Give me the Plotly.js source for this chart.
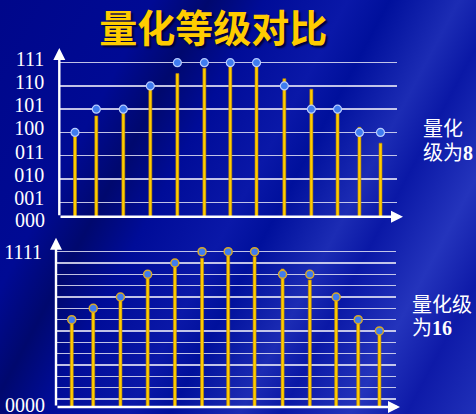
<!DOCTYPE html>
<html>
<head>
<meta charset="utf-8">
<script src="https://cdn.plot.ly/plotly-3.0.1.min.js"></script>
<style>
  html, body { margin: 0; padding: 0; }
  body {
    width: 476px; height: 414px; overflow: hidden;
    background:
      linear-gradient(118deg,
        #00078a 0%, #000a94 22%, #00086e 30%, #000c98 38%,
        #0a18a8 50%, #00109c 56%, #1c2cb4 66%, #0a18a6 72%,
        #2434bc 82%, #0e1aa8 90%, #2030b8 100%);
  }
  #chart { width: 476px; height: 414px; }
</style>
</head>
<body>
<div id="chart"></div>
<script>
// sample positions (shared by both panels)
const sampleT = [0.58, 1.37, 2.37, 3.37, 4.37, 5.37, 6.33, 7.3, 8.33, 9.33, 10.3, 11.11, 11.89];

// 8-level panel: original amplitude (stem) and quantized level (dot)
const signal8 = [3.92, 4.71, 5.14, 5.86, 6.53, 6.76, 7.0, 6.86, 6.31, 5.86, 5.04, 4.22, 3.54];
const quant8  = [4, 5, 5, 6, 7, 7, 7, 7, 6, 5, 5, 4, 4];
const tickVals8 = [0.38, 1, 2, 3, 4, 5, 6, 7];
const tickText8 = ['000', '001', '010', '011', '100', '101', '110', '111'];

// 16-level panel
const signal16 = [8.82, 10.03, 10.91, 12.68, 13.83, 14.42, 14.86, 14.56, 13.47, 12.5, 10.83, 8.97, 7.94];
const quant16  = [9, 10, 11, 13, 14, 15, 15, 15, 13, 13, 11, 9, 8];
const tickVals16 = [1.29, 2, 3, 4, 5, 6, 7, 8, 9, 10, 11, 12, 13, 14, 15];
const tickText16 = ['0000', '', '', '', '', '', '', '', '', '', '', '', '', '', '1111'];

const titleText = '量化等级对比';
const label8 = ['量化', '级为<b>8</b>'];
const label16 = ['量化级', '为<b>16</b>'];

const STEM = '#FFCC00';
const GRID = 'rgba(226,226,245,0.85)';

const traces = [
  { type: 'bar', x: sampleT, y: signal8, base: 0, width: 0.11, xaxis: 'x', yaxis: 'y',
    marker: { color: STEM, line: { color: '#C08a00', width: 0.6 } }, hoverinfo: 'skip' },
  { type: 'scatter', mode: 'markers', x: sampleT, y: quant8, xaxis: 'x', yaxis: 'y',
    marker: { size: 8, color: '#3f7cf0', line: { color: '#b8ccff', width: 1.2 } }, cliponaxis: false },
  { type: 'bar', x: sampleT, y: signal16, base: 0, width: 0.11, xaxis: 'x2', yaxis: 'y2',
    marker: { color: STEM, line: { color: '#C08a00', width: 0.6 } }, hoverinfo: 'skip' },
  { type: 'scatter', mode: 'markers', x: sampleT, y: quant16, xaxis: 'x2', yaxis: 'y2',
    marker: { size: 8, color: '#3f7cf0', line: { color: '#d8a828', width: 1.5 } }, cliponaxis: false }
];

const tickFont = { family: 'Liberation Serif, serif', size: 20, color: '#ffffff' };
const labelFont = { family: 'Liberation Serif, Noto Sans CJK SC, sans-serif', size: 20, color: '#ffffff' };

// axis-base labels are drawn as annotations just below the axis line, like the reference
const axisTicks8 = tickText8.map((t, i) => (i === 0 ? '' : t));
const axisTicks16 = tickText16.map((t, i) => (i === 0 ? '' : t));

function arrow(xp, yp, ax, ay) {
  return { xref: 'paper', yref: 'paper', x: xp, y: yp, ax: ax, ay: ay, text: '',
           showarrow: true, arrowhead: 2, arrowsize: 1, arrowwidth: 2.4, arrowcolor: '#ffffff', standoff: 0 };
}

const layout = {
  width: 476, height: 414,
  margin: { l: 0, r: 0, t: 0, b: 0 },
  paper_bgcolor: 'rgba(0,0,0,0)', plot_bgcolor: 'rgba(0,0,0,0)',
  showlegend: false, bargap: 0,
  title: { text: titleText, x: 0.448, xanchor: 'center', y: 0.93, yanchor: 'middle', yref: 'container',
           font: { family: 'Noto Sans CJK SC, sans-serif', size: 38, color: '#FFCC00', weight: 'bold',
                   shadow: '2px 2px 2px #000033' } },
  xaxis:  { domain: [0.1246, 0.834], range: [0, 12.5], showgrid: false, zeroline: false,
            showticklabels: false, showline: false, fixedrange: true },
  yaxis:  { domain: [0.4766, 0.8655], range: [0.38, 7.3], tickvals: tickVals8, ticktext: axisTicks8,
            showgrid: true, gridcolor: GRID, gridwidth: 1.5, zeroline: false, showline: false,
            ticks: 'outside', ticklen: 10, tickcolor: 'rgba(0,0,0,0)', tickfont: tickFont,
            ticklabelshift: -4, fixedrange: true },
  xaxis2: { domain: [0.1176, 0.832], range: [0, 12.5], showgrid: false, zeroline: false,
            showticklabels: false, showline: false, anchor: 'y2', fixedrange: true },
  yaxis2: { domain: [0.0169, 0.4058], range: [1.29, 15.5], tickvals: tickVals16, ticktext: axisTicks16,
            anchor: 'x2', showgrid: true, gridcolor: GRID, gridwidth: 1.5, zeroline: false, showline: false,
            ticks: 'outside', ticklen: 9, tickcolor: 'rgba(0,0,0,0)', tickfont: tickFont, fixedrange: true },
  annotations: [
    arrow(403 / 476, (414 - 216.7) / 414, -344, 0),
    arrow(59.3 / 476, (414 - 48) / 414, 0, 168.7),
    arrow(400 / 476, (414 - 407) / 414, -344, 0),
    arrow(56 / 476, (414 - 237.7) / 414, 0, 169.3),
    { xref: 'paper', yref: 'y', x: 47 / 476, y: tickVals8[0], yshift: -3, xanchor: 'right', yanchor: 'middle',
      text: tickText8[0], showarrow: false, font: tickFont },
    { xref: 'paper', yref: 'y2', x: 47 / 476, y: tickVals16[0], yshift: 2, xanchor: 'right', yanchor: 'middle',
      text: tickText16[0], showarrow: false, font: tickFont },
    { xref: 'paper', yref: 'paper', x: 421 / 476, y: (414 - 129.2) / 414, xanchor: 'left', yanchor: 'middle',
      text: label8[0], showarrow: false, font: labelFont },
    { xref: 'paper', yref: 'paper', x: 421 / 476, y: (414 - 152.5) / 414, xanchor: 'left', yanchor: 'middle',
      text: label8[1], showarrow: false, font: labelFont },
    { xref: 'paper', yref: 'paper', x: 410 / 476, y: (414 - 305) / 414, xanchor: 'left', yanchor: 'middle',
      text: label16[0], showarrow: false, font: labelFont },
    { xref: 'paper', yref: 'paper', x: 410 / 476, y: (414 - 328.3) / 414, xanchor: 'left', yanchor: 'middle',
      text: label16[1], showarrow: false, font: labelFont }
  ]
};

Plotly.newPlot('chart', traces, layout, { displayModeBar: false, staticPlot: true });
</script>
</body>
</html>
